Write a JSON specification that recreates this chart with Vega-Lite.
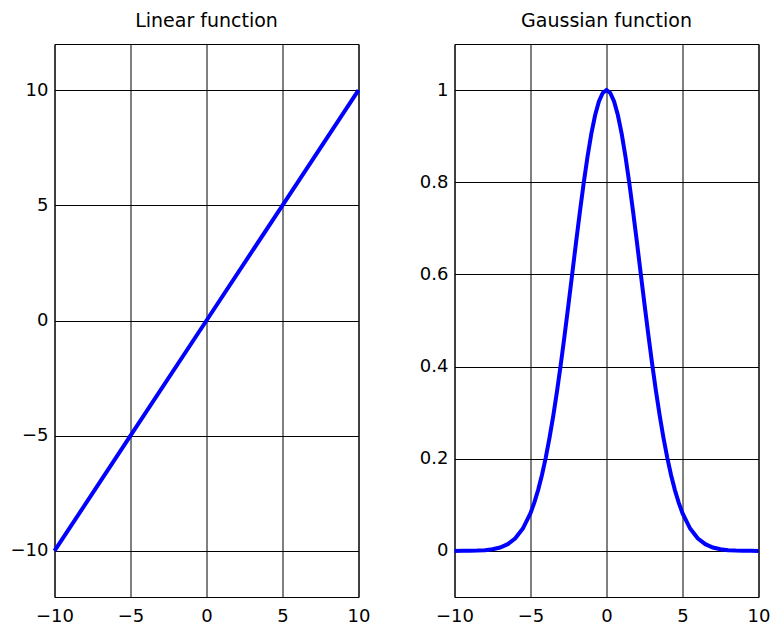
{
  "$schema": "https://vega.github.io/schema/vega-lite/v6.json",
  "background": "white",
  "padding": {"left": 9.5, "top": 11, "right": 5, "bottom": 5},
  "datasets": {
    "linear": [
      {"x": -10, "y": -10}, {"x": -5, "y": -5}, {"x": 0, "y": 0}, {"x": 5, "y": 5}, {"x": 10, "y": 10}
    ],
    "gaussian": [
      {"x": -10, "y": 0.000045}, {"x": -9.5, "y": 0.00012}, {"x": -9, "y": 0.0003}, {"x": -8.5, "y": 0.00073},
      {"x": -8, "y": 0.00166}, {"x": -7.5, "y": 0.00361}, {"x": -7, "y": 0.00745}, {"x": -6.5, "y": 0.01462},
      {"x": -6, "y": 0.02732}, {"x": -5.5, "y": 0.04856}, {"x": -5, "y": 0.08208}, {"x": -4.75, "y": 0.10474},
      {"x": -4.5, "y": 0.13199}, {"x": -4.25, "y": 0.16427}, {"x": -4, "y": 0.2019}, {"x": -3.75, "y": 0.24506},
      {"x": -3.5, "y": 0.29376}, {"x": -3.25, "y": 0.34776}, {"x": -3, "y": 0.40657}, {"x": -2.75, "y": 0.46943},
      {"x": -2.5, "y": 0.53526}, {"x": -2.25, "y": 0.60275}, {"x": -2, "y": 0.67032}, {"x": -1.75, "y": 0.7362},
      {"x": -1.5, "y": 0.79852}, {"x": -1.25, "y": 0.85535}, {"x": -1, "y": 0.90484}, {"x": -0.75, "y": 0.9453},
      {"x": -0.5, "y": 0.97531}, {"x": -0.25, "y": 0.99377}, {"x": 0, "y": 1},
      {"x": 0.25, "y": 0.99377}, {"x": 0.5, "y": 0.97531}, {"x": 0.75, "y": 0.9453}, {"x": 1, "y": 0.90484},
      {"x": 1.25, "y": 0.85535}, {"x": 1.5, "y": 0.79852}, {"x": 1.75, "y": 0.7362}, {"x": 2, "y": 0.67032},
      {"x": 2.25, "y": 0.60275}, {"x": 2.5, "y": 0.53526}, {"x": 2.75, "y": 0.46943}, {"x": 3, "y": 0.40657},
      {"x": 3.25, "y": 0.34776}, {"x": 3.5, "y": 0.29376}, {"x": 3.75, "y": 0.24506}, {"x": 4, "y": 0.2019},
      {"x": 4.25, "y": 0.16427}, {"x": 4.5, "y": 0.13199}, {"x": 4.75, "y": 0.10474}, {"x": 5, "y": 0.08208},
      {"x": 5.5, "y": 0.04856}, {"x": 6, "y": 0.02732}, {"x": 6.5, "y": 0.01462}, {"x": 7, "y": 0.00745},
      {"x": 7.5, "y": 0.00361}, {"x": 8, "y": 0.00166}, {"x": 8.5, "y": 0.00073}, {"x": 9, "y": 0.0003},
      {"x": 9.5, "y": 0.00012}, {"x": 10, "y": 0.000045}
    ]
  },
  "config": {
    "font": "DejaVu Sans",
    "view": {"stroke": "black", "strokeWidth": 1},
    "axis": {
      "grid": true,
      "gridColor": "black",
      "gridOpacity": 1,
      "gridWidth": 1,
      "domain": false,
      "ticks": false,
      "tickSize": 0,
      "title": null,
      "labelFont": "DejaVu Sans",
      "labelFontSize": 18,
      "labelColor": "black"
    },
    "axisX": {"labelPadding": 10.5, "labelFlush": false},
    "axisY": {"labelPadding": 6.5},
    "title": {
      "font": "DejaVu Sans",
      "fontSize": 19,
      "fontWeight": "normal",
      "color": "black",
      "anchor": "middle",
      "baseline": "alphabetic",
      "offset": 13
    }
  },
  "bounds": "flush",
  "spacing": 96,
  "hconcat": [
    {
      "title": "Linear function",
      "width": 304,
      "height": 553,
      "data": {"name": "linear"},
      "mark": {"type": "line", "color": "#0000ff", "strokeWidth": 4},
      "encoding": {
        "x": {"field": "x", "type": "quantitative", "scale": {"domain": [-10, 10], "nice": false, "zero": false},
              "axis": {"values": [-10, -5, 0, 5, 10], "format": "d"}},
        "y": {"field": "y", "type": "quantitative", "scale": {"domain": [-12, 12], "nice": false, "zero": false},
              "axis": {"values": [-10, -5, 0, 5, 10], "format": "d"}}
      }
    },
    {
      "title": "Gaussian function",
      "width": 304,
      "height": 553,
      "data": {"name": "gaussian"},
      "mark": {"type": "line", "color": "#0000ff", "strokeWidth": 4},
      "encoding": {
        "x": {"field": "x", "type": "quantitative", "scale": {"domain": [-10, 10], "nice": false, "zero": false},
              "axis": {"values": [-10, -5, 0, 5, 10], "format": "d"}},
        "y": {"field": "y", "type": "quantitative", "scale": {"domain": [-0.1, 1.1], "nice": false, "zero": false},
              "axis": {"values": [0, 0.2, 0.4, 0.6, 0.8, 1], "format": ".1~f"}}
      }
    }
  ]
}
